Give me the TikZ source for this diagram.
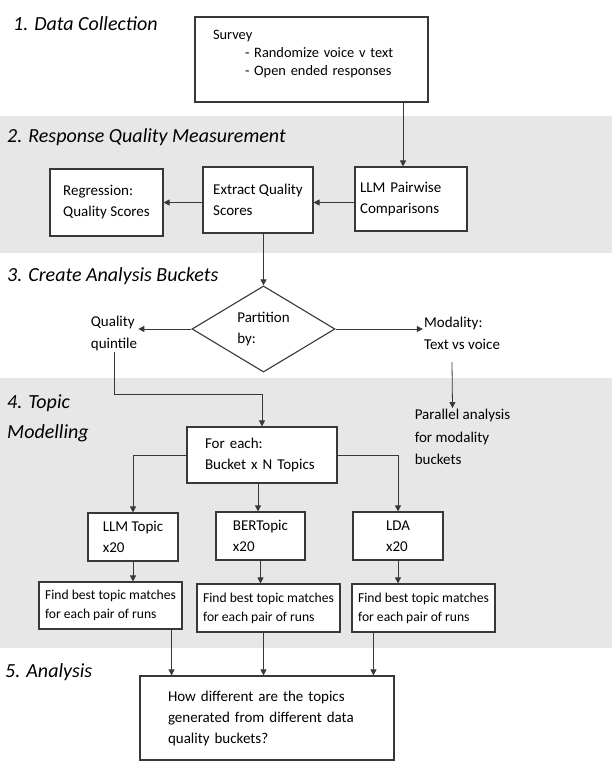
\documentclass[tikz,border=0pt]{standalone}
\usepackage{fontspec}
\setmainfont{Carlito}
\usepackage{tikz}
\usetikzlibrary{arrows.meta,positioning,calc,shapes.geometric}
\definecolor{bandc}{HTML}{E6E7E6}
\definecolor{linec}{HTML}{383838}
\tikzset{
  box/.style={draw=linec,line width=1.1pt,fill=white,inner ysep=0pt,inner xsep=0pt,
    align=left,font=\fontsize{15}{21}\selectfont},
  fbox/.style={box,font=\fontsize{13.6}{19}\selectfont},
  side/.style={inner sep=1pt,align=left,font=\fontsize{15}{22.5}\selectfont},
  ttl/.style={inner sep=0pt,align=left,font=\fontsize{20}{30}\selectfont\itshape},
  arr/.style={-{Triangle[length=6pt,width=6pt]},line width=0.8pt,draw=linec},
  band/.style={fill=bandc},
  % --- the partition diamond ---
  dia/.style={diamond,draw=linec,line width=1.1pt,fill=white,inner sep=0pt,
    minimum width=143pt,minimum height=68pt,align=left,font=\fontsize{15}{21}\selectfont},
}

\begin{document}
\begin{tikzpicture}[x=1pt,y=-1pt]
  \useasboundingbox (0,0) rectangle (612,762);
  \fill[band] (0,116) rectangle (612,253);
  \fill[band] (0,378) rectangle (612,648);
  % stage titles
  \node[ttl,anchor=base west] (t1) at (13,31) {1. Data Collection};
  \node[ttl,anchor=base west] (t2) at (7,143) {2. Response Quality Measurement};
  \node[ttl,anchor=base west] (t3) at (7,281) {3. Create Analysis Buckets};
  \node[ttl,anchor=north west] (t4) at (7,395) {4. Topic\\Modelling};
  \node[ttl,anchor=base west] (t5) at (5,677) {5. Analysis};
  % boxes
  \node[box,font=\fontsize{14.4}{18}\selectfont,inner xsep=18pt,text width=197pt,minimum height=85pt]
    (survey) at (311.5,59.5) {Survey\\\hspace*{32pt}- Randomize voice v text\\
    \hspace*{32pt}- Open ended responses\\[-11pt]\strut};
  \node[box,minimum width=113pt,minimum height=67pt] (reg) at (106.5,202.5) {Regression:\\Quality Scores};
  \node[box,minimum width=110pt,minimum height=66pt] (extract) at (258,200) {Extract Quality\\Scores};
  \node[box,inner xsep=5pt,text width=102pt,minimum height=64pt] (pairw) at (411,199) {LLM Pairwise\\Comparisons};
  \node[dia] (part) at (263.5,329) {Partition\\by:};
  \node[side] (qq) at (114,333.5) {Quality\\quintile};
  \node[side] (mod) at (462,333.5) {Modality:\\Text vs voice};
  \node[side] (par) at (462.5,437) {Parallel analysis\\for modality\\buckets};
  \node[box,inner xsep=18pt,text width=114pt,minimum height=56pt] (foreach) at (262,455) {For each:\\Bucket x N Topics};
  \node[box,minimum width=90pt,minimum height=48pt] (ltopic) at (133,537) {LLM Topic\\x20};
  \node[box,minimum width=89pt,minimum height=48pt] (bert) at (260.5,536) {BERTopic\\x20};
  \node[box,minimum width=90pt,minimum height=48pt] (lda) at (398,536) {LDA\\x20};
  \node[fbox,minimum width=143pt,minimum height=47pt] (find1) at (110.5,605.5) {Find best topic matches\\for each pair of runs};
  \node[fbox,minimum width=143pt,minimum height=48pt] (find2) at (268.5,608) {Find best topic matches\\for each pair of runs};
  \node[fbox,minimum width=143pt,minimum height=48pt] (find3) at (423.5,608) {Find best topic matches\\for each pair of runs};
  \node[box,inner xsep=28pt,text width=198pt,minimum height=84pt] (howdiff) at (267,718)
    {How different are the topics\\generated from different data\\quality buckets?};
  % connectors
  \draw[arr] ([xshift=-8pt]pairw.north |- survey.south) -- ([xshift=-8pt]pairw.north);
  \draw[arr] (pairw.west |- reg) -- (extract.east |- reg);
  \draw[arr] (extract.west |- reg) -- (reg.east);
  \draw[arr] (part.north |- extract.south) -- (part.north);
  \draw[arr] (part.west) -- (part.west -| qq.east);
  \draw[arr] (part.east) -- (part.east -| mod.west);
  \draw[arr] (qq.south) -- ++(0,42) -| (foreach.north);
  \draw[arr] ($(mod.south)+(-10,11)$) -- ($(par.north)+(-10,0)$);
  \draw[arr] (foreach.west) -| (ltopic.north);
  \draw[arr] (foreach.east) -| (lda.north);
  \draw[arr] ([xshift=-4pt]foreach.south) -- ([xshift=-4pt]foreach.south |- bert.north);
  \foreach \a/\b in {ltopic/find1,bert/find2,lda/find3}
    \draw[arr] (\a.south) -- (\a.south |- \b.north);
  \draw[arr] ([xshift=-11pt]find1.south east) -- ([xshift=-11pt]find1.south east |- howdiff.north);
  \draw[arr] ([xshift=-5pt]find2.south) -- ([xshift=-5pt]find2.south |- howdiff.north);
  \draw[arr] ([xshift=22pt]find3.south west) -- ([xshift=22pt]find3.south west |- howdiff.north);
\end{tikzpicture}
\end{document}
